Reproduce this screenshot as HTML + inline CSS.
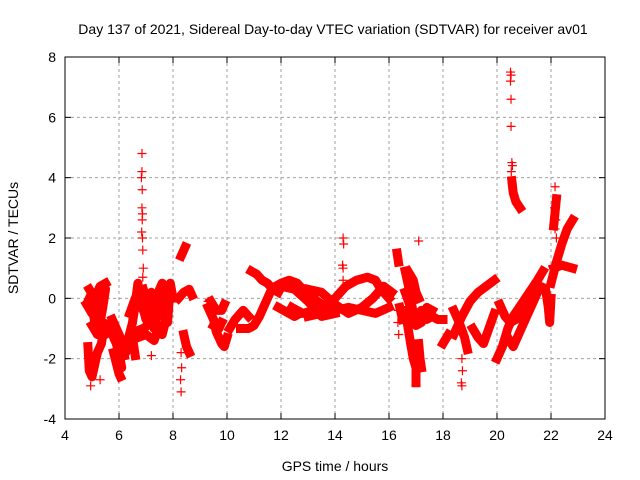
<!DOCTYPE html>
<html><head><meta charset="utf-8"><style>
body{margin:0;background:#fff}
svg{display:block;font-family:"Liberation Sans",sans-serif}
</style></head><body>
<svg id="chart" width="640" height="480" viewBox="0 0 640 480">
<rect width="640" height="480" fill="#fff"/>
<text x="333" y="34" font-size="14" text-anchor="middle">Day 137 of 2021, Sidereal Day-to-day VTEC variation (SDTVAR) for receiver av01</text>
<text x="335" y="471" font-size="14" text-anchor="middle">GPS time / hours</text>
<text transform="translate(18,238) rotate(-90)" font-size="14" text-anchor="middle">SDTVAR / TECUs</text>
<g id="grid"></g><g id="marks"></g><g id="axes"></g>
</svg>
<script>
const xTicks=[4,6,8,10,12,14,16,18,20,22,24];
const yTicks=[-4,-2,0,2,4,6,8];
// thick clustered tracks [hour, SDTVAR]
const tracks=[
[[4.8,-0.2],[5.0,-0.5],[5.2,-0.3],[5.4,0.1],[5.5,0.3],[5.4,-0.3],[5.3,-0.8],[5.5,-1.2],[5.6,-0.9]],
[[4.85,-1.6],[4.9,-2.4],[5.0,-2.6],[5.1,-2.2],[5.2,-1.8],[5.35,-1.5],[5.4,-1.2]],
[[4.85,-0.1],[4.95,0.1],[5.1,-0.8],[5.2,-1.0]],
[[4.9,0.3],[5.1,0.0],[5.3,0.4],[5.5,0.5]],
[[5.0,-0.9],[5.2,-1.2],[5.4,-0.8]],
[[5.7,-0.9],[5.8,-1.3],[5.9,-1.5],[6.0,-1.8],[6.1,-2.3],[6.0,-2.0],[5.9,-1.2],[6.15,-1.6]],
[[5.75,-0.7],[5.9,-1.0],[6.1,-1.4],[6.2,-1.9]],
[[5.8,-1.8],[6.0,-2.5],[6.05,-2.6]],
[[6.3,-1.5],[6.5,-0.8],[6.6,-0.2],[6.7,0.5],[6.8,0.0],[7.0,-0.7],[7.2,-0.3],[7.3,-1.0],[7.5,0.3],[7.6,0.5],[7.7,-0.2],[7.8,-0.8],[7.9,0.5],[8.0,0.0]],
[[6.5,-1.1],[6.6,-1.1],[6.9,-1.0],[7.2,-0.8],[7.4,-1.1],[7.6,-1.2],[7.8,-0.5]],
[[6.9,0.3],[7.0,0.0],[7.1,-0.4],[7.4,-0.2]],
[[6.4,-0.5],[6.6,0.0],[6.9,-0.4],[7.2,0.2],[7.5,-0.6],[7.8,0.0]],
[[6.4,-1.4],[6.7,-1.3],[7.0,-1.2],[7.3,-1.4],[7.5,-0.9]],
[[6.3,-1.7],[6.5,-1.3],[6.6,-1.9]],
[[8.3,1.4],[8.45,1.7]],
[[8.4,-1.2],[8.5,-1.6],[8.6,-1.8]],
[[8.2,0.0],[8.4,0.2],[8.6,0.3],[8.7,0.1]],
[[9.3,-0.3],[9.5,-0.7],[9.6,-1.1],[9.8,-1.5],[9.9,-1.6],[10.0,-1.3]],
[[9.4,-0.1],[9.6,-0.4],[9.8,-0.4],[9.9,-0.2]],
[[9.5,-0.9],[9.7,-1.0],[9.8,-0.8]],
[[10.1,-1.0],[10.3,-0.7],[10.5,-0.5],[10.6,-0.4],[10.8,-0.6]],
[[10.5,-1.0],[10.8,-1.0],[11.0,-0.9],[11.2,-0.6],[11.4,-0.2],[11.6,0.2],[11.8,0.4],[12.0,0.5],[12.3,0.6],[12.6,0.5],[12.9,0.2],[13.2,0.0],[13.5,-0.2],[13.8,-0.4]],
[[10.9,0.9],[11.1,0.8],[11.3,0.6],[11.5,0.5],[11.7,0.3],[11.9,0.2]],
[[11.9,-0.3],[12.1,-0.4],[12.3,-0.5],[12.5,-0.6],[12.7,-0.5]],
[[12.4,-0.3],[12.8,-0.5],[13.2,-0.4],[13.6,-0.2],[14.0,0.0],[14.4,0.4],[14.8,0.6],[15.2,0.7],[15.5,0.6],[15.7,0.3],[16.0,0.0]],
[[13.0,-0.6],[13.5,-0.5],[14.0,-0.4],[14.5,-0.3],[15.0,-0.4],[15.5,-0.5],[16.0,-0.3]],
[[13.0,0.3],[13.5,0.2],[14.0,-0.2],[14.5,-0.5],[15.0,-0.3],[15.4,0.0],[15.8,0.4],[16.1,0.2]],
[[12.0,0.4],[12.5,0.3],[13.0,-0.1],[13.5,-0.6],[14.0,-0.5]],
[[16.3,1.5],[16.35,1.2]],
[[16.6,0.9],[16.7,0.5],[16.8,0.0],[16.9,-0.5],[17.0,-0.6],[17.2,-0.4],[17.4,-0.7],[17.6,-0.6],[17.8,-0.7],[18.0,-0.7]],
[[16.6,0.2],[16.8,-0.3],[17.0,-0.9],[17.2,-0.8],[17.4,-0.3],[17.6,-0.4]],
[[16.6,-0.4],[16.8,-1.5],[16.9,-2.0],[17.0,-2.3],[17.0,-2.8]],
[[17.1,-1.5],[17.15,-2.0],[17.2,-2.3]],
[[16.7,0.9],[16.9,0.6],[17.0,0.2],[17.1,0.0]],
[[16.4,-0.3],[16.5,-0.7]],
[[18.0,-1.5],[18.2,-1.2]],
[[18.4,-1.2],[18.7,-0.6],[19.0,-0.1],[19.3,0.2],[19.6,0.4],[19.9,0.6]],
[[18.4,-0.4],[18.6,-0.8],[18.8,-1.3],[18.9,-1.7]],
[[19.1,-1.0],[19.3,-1.3],[19.5,-1.5],[19.7,-1.0],[19.9,-0.5]],
[[20.1,-0.2],[20.3,-0.6],[20.5,-0.8],[20.7,-0.7],[20.9,-0.4],[21.1,0.0],[21.3,0.3],[21.5,0.6]],
[[20.0,-2.0],[20.2,-1.6],[20.4,-1.0],[20.6,-0.6],[20.9,-0.2],[21.2,0.2],[21.5,0.6],[21.7,0.9]],
[[20.4,-1.3],[20.6,-1.6],[20.8,-1.2],[21.0,-0.8],[21.3,-0.2],[21.6,0.4]],
[[21.8,0.3],[21.9,-0.3],[21.95,-0.8],[22.0,0.0]],
[[22.1,2.4],[22.2,3.3]],
[[22.0,0.5],[22.2,1.2],[22.4,1.8],[22.6,2.3],[22.8,2.6]],
[[22.1,1.0],[22.4,1.1],[22.8,1.0]],
[[20.55,3.9],[20.6,3.5],[20.7,3.2],[20.85,3.0]]
];
// sparse individual markers
const pointHours=[6.85,6.85,6.83,6.86,6.85,6.87,6.86,6.84,6.87,6.88,6.9,6.88,
8.3,8.32,8.28,8.3,14.3,14.32,14.28,14.3,14.3,16.35,16.33,16.36,17.1,
18.7,18.72,18.68,18.7,20.5,20.52,20.5,20.52,20.52,20.55,20.57,20.53,20.56,22.15,22.2,22.13,22.18,22.15,22.2,
7.2,9.3,7.6,4.95,5.3];
const pointValues=[4.8,4.2,4.0,3.6,3.0,2.8,2.6,2.2,2.0,1.6,1.0,0.7,
-1.8,-2.3,-2.7,-3.1,2.0,1.8,1.1,1.0,0.6,-0.4,-0.8,-1.2,1.9,
-2.0,-2.4,-2.8,-2.9,7.5,7.4,7.2,6.6,5.7,4.5,4.4,4.2,3.8,3.7,3.3,3.0,2.6,2.3,2.0,
-1.9,-0.1,0.3,-2.9,-2.7];
const L=65,R=605,T=57,B=419;
const xs=h=>L+(h-4)*(R-L)/20;
const ys=v=>B-(v+4)*(B-T)/12;
const NS="http://www.w3.org/2000/svg";
const mk=(t,a,p)=>{const e=document.createElementNS(NS,t);for(const k in a)e.setAttribute(k,a[k]);p.appendChild(e);return e;};
const grid=document.getElementById('grid'),marks=document.getElementById('marks'),axes=document.getElementById('axes');
xTicks.forEach(t=>{const x=xs(t);
 if(t>4&&t<24){const g=mk('line',{x1:x,x2:x,y1:T,y2:B,stroke:'#a0a0a0','stroke-dasharray':'3,3'},grid);
 
 }
 mk('line',{x1:x,x2:x,y1:B,y2:B-6,stroke:'#000'},axes);mk('line',{x1:x,x2:x,y1:T,y2:T+6,stroke:'#000'},axes);
 const tx=mk('text',{x:x,y:B+21,'font-size':14,'text-anchor':'middle'},axes);tx.textContent=t;
 
 });
yTicks.forEach(t=>{const y=ys(t);
 if(t>-4&&t<8){const g=mk('line',{x1:L,x2:R,y1:y,y2:y,stroke:'#a0a0a0','stroke-dasharray':'3,3'},grid);
 
 }
 mk('line',{x1:L,x2:L+6,y1:y,y2:y,stroke:'#000'},axes);mk('line',{x1:R,x2:R-6,y1:y,y2:y,stroke:'#000'},axes);
 const tx=mk('text',{x:L-9,y:y+5,'font-size':14,'text-anchor':'end'},axes);tx.textContent=t;
 
 });
const fr=mk('rect',{x:L,y:T,width:R-L,height:B-T,fill:'none',stroke:'#000'},axes);


tracks.forEach(tr=>{const p=mk('polyline',{points:tr.map(d=>xs(d[0])+','+ys(d[1])).join(' '),fill:'none',stroke:'#f00','stroke-width':9,'stroke-linejoin':'round','stroke-linecap':'square'},marks);
 
 });
pointHours.forEach((h,i)=>{const x=xs(h),y=ys(pointValues[i]);
 const p=mk('path',{d:`M${x-4.5},${y}H${x+4.5}M${x},${y-4.5}V${y+4.5}`,stroke:'#f00','stroke-width':1.2},marks);
 
 });
</script>
</body></html>
